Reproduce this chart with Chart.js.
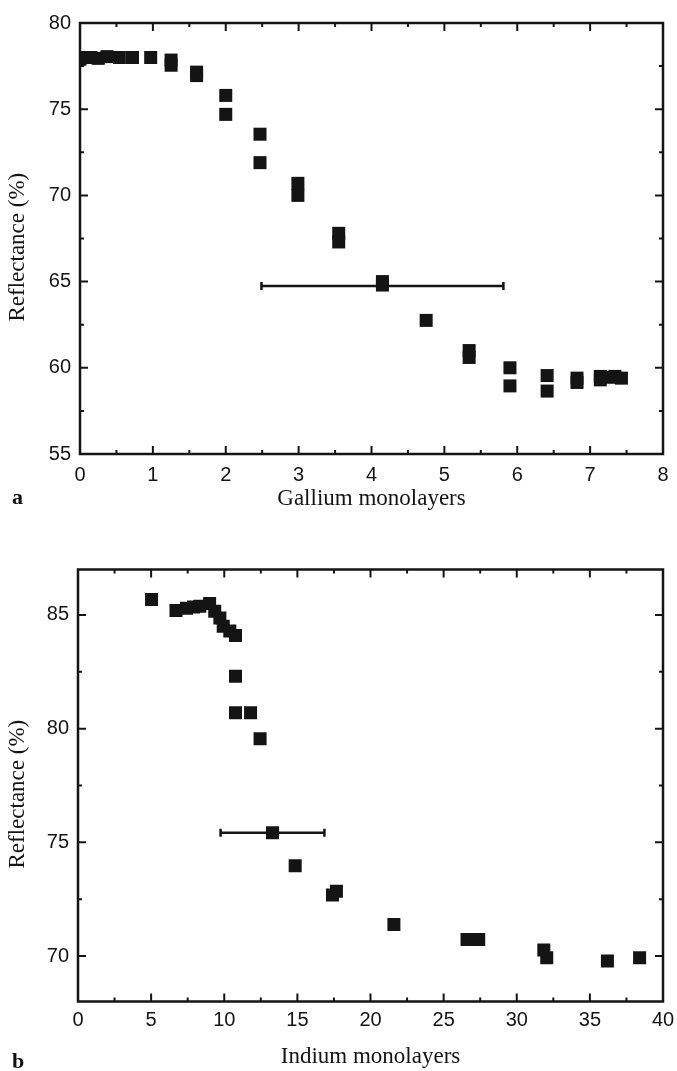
<!DOCTYPE html>
<html>
<head>
<meta charset="utf-8">
<script src="https://cdn.jsdelivr.net/npm/chart.js@4.4.1/dist/chart.umd.min.js"></script>
<style>
  body { margin: 0; background: #fff; }
  .wrap { position: absolute; left: 0; width: 677px; }
  .tag { position: absolute; left: 12px; font: bold 22px "Liberation Serif", "Times New Roman", serif; color: #111; }
</style>
</head>
<body>
<div class="wrap" style="top:0"><canvas id="chartA" width="677" height="530"></canvas></div>
<div class="wrap" style="top:540px"><canvas id="chartB" width="677" height="531"></canvas></div>
<div class="tag" style="top:484px">a</div>
<div class="tag" style="top:1048px">b</div>
<script>
// (a) gallium
const gaX = [0, 0.05, 0.15, 0.25, 0.37, 0.54, 0.72, 0.97, 1.25, 1.25, 1.6, 1.6, 2.0, 2.0, 2.47, 2.47, 2.99, 2.99,
  3.55, 3.55, 4.15, 4.15, 4.75, 5.34, 5.34, 5.9, 5.9, 6.41, 6.41, 6.82, 6.82, 7.14, 7.14, 7.3, 7.34, 7.43]
const gaY = [77.9, 78.0, 78.0, 77.95, 78.05, 78.0, 78.0, 78.0, 77.85, 77.55, 77.15, 76.95, 75.8, 74.7, 73.55, 71.9, 70.7, 70.0,
  67.8, 67.3, 65.0, 64.8, 62.75, 61.0, 60.6, 60.0, 58.95, 59.55, 58.65, 59.4, 59.15, 59.5, 59.3, 59.45, 59.5, 59.4]
const gaErr = { x: 4.15, y: 64.75, dx: 1.66 }
const gaXTicks = [0, 1, 2, 3, 4, 5, 6, 7, 8]
const gaXMinor = [0.5, 1.5, 2.5, 3.5, 4.5, 5.5, 6.5, 7.5]
const gaYTicks = [55, 60, 65, 70, 75, 80]
const gaYMinor = [57.5, 62.5, 67.5, 72.5, 77.5]

// (b) indium
const inX = [5.03, 6.7, 7.42, 7.9, 8.33, 9.0, 9.35, 9.7, 9.93, 10.38, 10.77, 10.77, 10.77, 11.8, 12.45,
  13.3, 14.85, 17.4, 17.67, 21.6, 26.6, 27.4, 31.85, 32.05, 36.2, 38.4]
const inY = [85.68, 85.2, 85.3, 85.35, 85.38, 85.5, 85.16, 84.87, 84.5, 84.3, 84.1, 82.3, 80.7, 80.7, 79.56,
  75.42, 73.97, 72.68, 72.85, 71.39, 70.73, 70.73, 70.26, 69.92, 69.78, 69.92]
const inErr = { x: 13.3, y: 75.42, dx: 3.55 }
const inXTicks = [0, 5, 10, 15, 20, 25, 30, 35, 40]
const inXMinor = [2.5, 7.5, 12.5, 17.5, 22.5, 27.5, 32.5, 37.5]
const inYTicks = [70, 75, 80, 85]
const inYMinor = [72.5, 77.5, 82.5]

const INK = "#141414"

// box with inward ticks on all four sides
const framePlugin = {
  id: "frame",
  beforeDatasetsDraw(chart, args, opts) {
    const { ctx, chartArea: a, scales: { x, y } } = chart
    ctx.save()
    ctx.strokeStyle = INK
    ctx.lineWidth = 2.5
    ctx.strokeRect(a.left, a.top, a.right - a.left, a.bottom - a.top)
    ctx.lineWidth = 2
    ctx.beginPath()
    const xt = (vals, len) => vals.forEach((v) => {
      const p = x.getPixelForValue(v)
      ctx.moveTo(p, a.bottom); ctx.lineTo(p, a.bottom - len)
      ctx.moveTo(p, a.top); ctx.lineTo(p, a.top + len)
    })
    const yt = (vals, len) => vals.forEach((v) => {
      const p = y.getPixelForValue(v)
      ctx.moveTo(a.left, p); ctx.lineTo(a.left + len, p)
      ctx.moveTo(a.right, p); ctx.lineTo(a.right - len, p)
    })
    xt(opts.xMajor, 8); xt(opts.xMinor, 4)
    yt(opts.yMajor, 8); yt(opts.yMinor, 4)
    ctx.stroke()
    ctx.restore()
  },
  afterDatasetsDraw(chart, args, opts) {
    const e = opts.err
    if (!e) return
    const { ctx, scales: { x, y } } = chart
    const x0 = x.getPixelForValue(e.x - e.dx)
    const x1 = x.getPixelForValue(e.x + e.dx)
    const py = y.getPixelForValue(e.y)
    ctx.save()
    ctx.strokeStyle = INK
    ctx.lineWidth = 2.5
    ctx.beginPath()
    ctx.moveTo(x0, py); ctx.lineTo(x1, py)
    ctx.moveTo(x0, py - 4); ctx.lineTo(x0, py + 4)
    ctx.moveTo(x1, py - 4); ctx.lineTo(x1, py + 4)
    ctx.stroke()
    ctx.restore()
  },
}

function makeChart(id, xs, ys, s) {
  const tickFont = { family: "'Liberation Sans', Arial, sans-serif", size: 20 }
  const titleFont = { family: "'Liberation Serif', 'Times New Roman', serif", size: 23 }
  return new Chart(document.getElementById(id), {
    type: "scatter",
    data: {
      datasets: [{
        data: xs.map((v, i) => ({ x: v, y: ys[i] })),
        pointStyle: "rect",
        pointRadius: 9.2,
        pointHoverRadius: 9.2,
        backgroundColor: INK,
        borderWidth: 0,
      }],
    },
    options: {
      responsive: false,
      animation: false,
      events: [],
      layout: { autoPadding: false, padding: { top: s.top, right: 14, left: 0, bottom: 0 } },
      plugins: {
        legend: { display: false },
        tooltip: { enabled: false },
        frame: { xMajor: s.xTicks, xMinor: s.xMinor, yMajor: s.yTicks, yMinor: s.yMinor, err: s.err },
      },
      scales: {
        x: {
          type: "linear",
          min: s.xMin, max: s.xMax,
          afterBuildTicks: (sc) => { sc.ticks = s.xTicks.map((v) => ({ value: v })) },
          afterFit: (sc) => {
            sc.height = s.xH
            sc.paddingLeft = 0
            sc.paddingRight = 0
          },
          grid: { display: false, drawTicks: false },
          border: { display: false },
          ticks: { font: tickFont, color: INK, padding: s.xPad, maxRotation: 0 },
          title: { display: true, text: s.xTitle, font: titleFont, color: INK, padding: { top: 0, bottom: s.xTitlePad } },
        },
        y: {
          min: s.yMin, max: s.yMax,
          afterBuildTicks: (sc) => { sc.ticks = s.yTicks.map((v) => ({ value: v })) },
          afterFit: (sc) => {
            sc.width = s.left
            sc.paddingTop = 0
            sc.paddingBottom = 0
          },
          grid: { display: false, drawTicks: false },
          border: { display: false },
          ticks: { font: tickFont, color: INK, padding: 9 },
          // trailing spaces nudge the rotated title a little lower, as in the figure
          title: { display: true, text: "Reflectance (%)\u00a0\u00a0\u00a0", font: titleFont, color: INK, padding: { top: 4, bottom: 0 } },
        },
      },
    },
    plugins: [framePlugin],
  })
}

makeChart("chartA", gaX, gaY, {
  xMin: 0, xMax: 8, yMin: 55, yMax: 80,
  xTicks: gaXTicks, xMinor: gaXMinor, yTicks: gaYTicks, yMinor: gaYMinor,
  err: gaErr, top: 23, left: 80, xH: 76, xPad: 9, xTitle: "Gallium monolayers", xTitlePad: 17,
})

makeChart("chartB", inX, inY, {
  xMin: 0, xMax: 40, yMin: 68, yMax: 87,
  xTicks: inXTicks, xMinor: inXMinor, yTicks: inYTicks, yMinor: inYMinor,
  err: inErr, top: 29.5, left: 78, xH: 69.5, xPad: 7, xTitle: "Indium monolayers", xTitlePad: 0,
})
</script>
</body>
</html>
